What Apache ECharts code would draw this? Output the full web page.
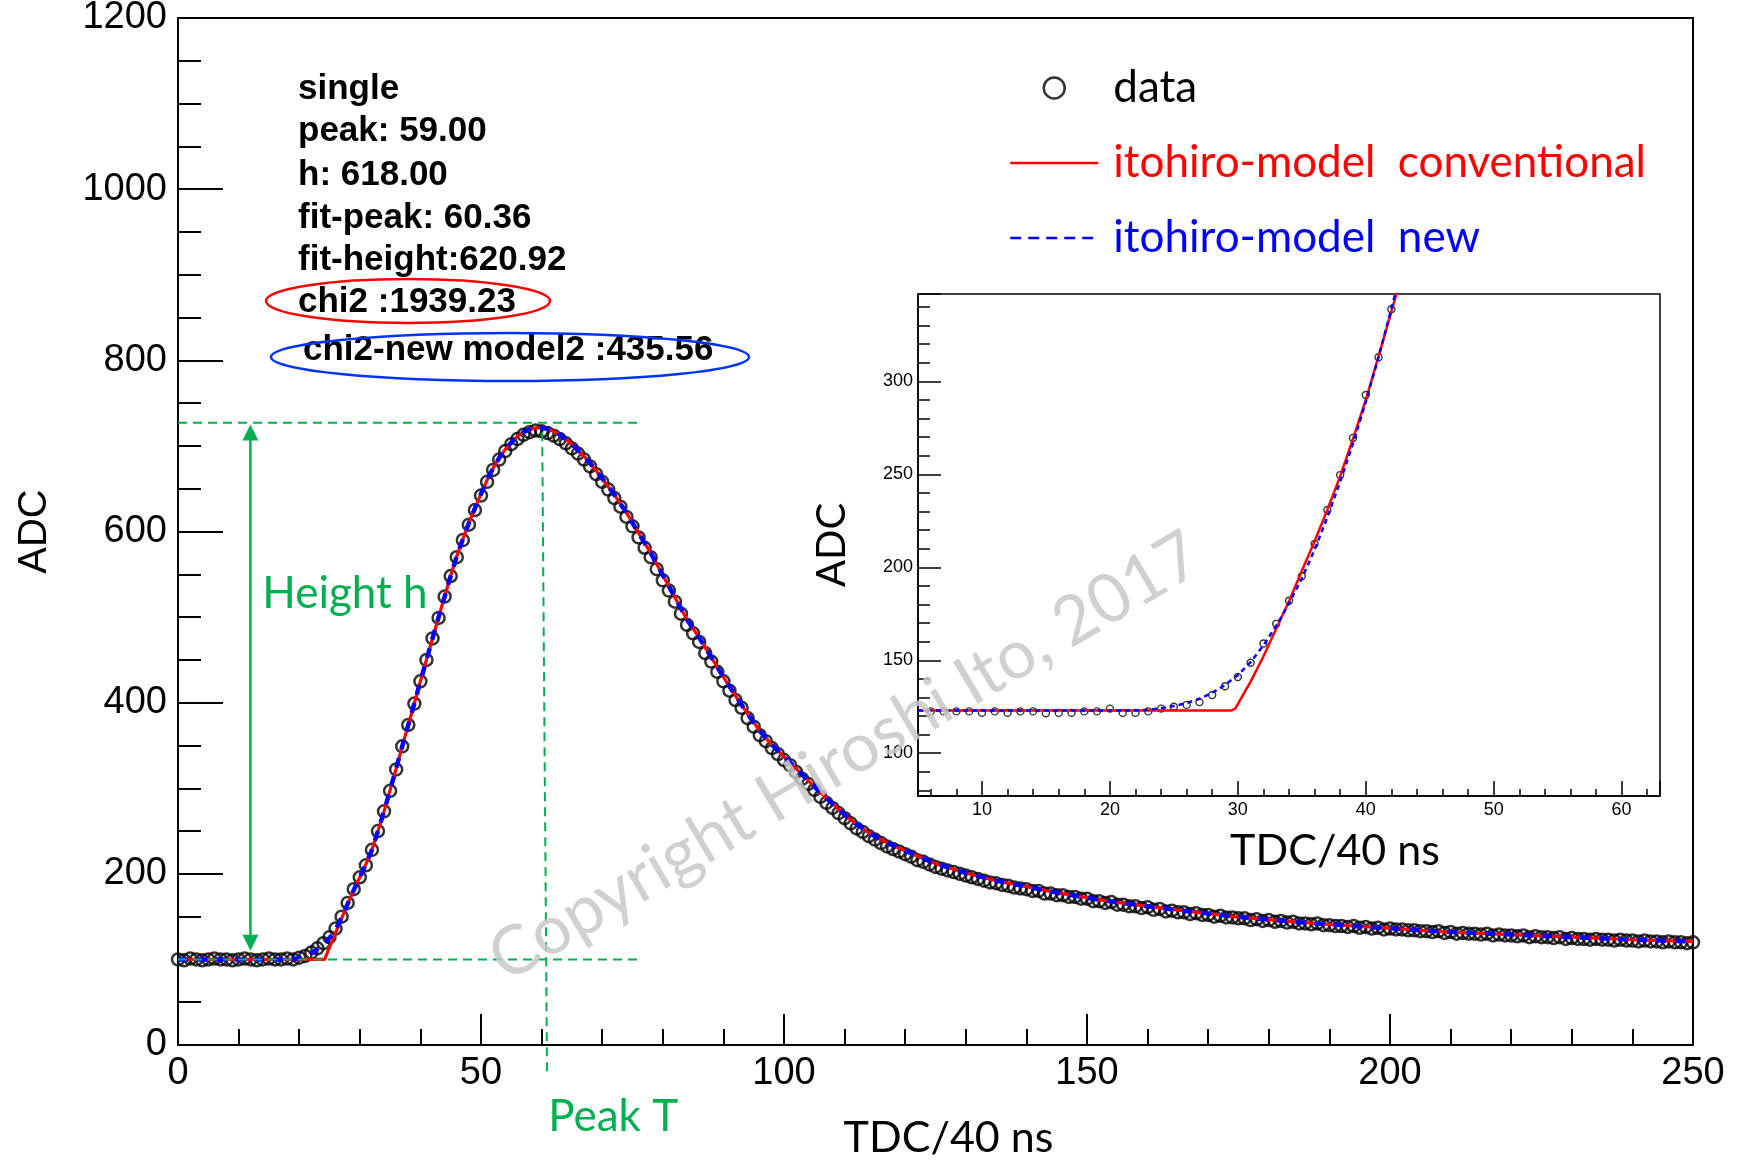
<!DOCTYPE html>
<html><head><meta charset="utf-8">
<script src="https://cdn.jsdelivr.net/npm/echarts@6/dist/echarts.min.js"></script>
<style>html,body{margin:0;padding:0;background:#fff}#chart{width:1745px;height:1161px}</style>
</head><body><div id="chart"></div>
<script>
// ---------------- data ----------------
const tdcStart = 0;   // first TDC bin of the main waveform
const dataADC = [
 100,99,101,100,99,100,101,100,100,99,100,101,100,99,100,101,100,100,101,100,
 102,104,108,113,119,126,136,150,166,182,
 196,210,228,250,273,297,322,349,374,399,
 425,450,475,499,524,548,570,590,608,625,
 642,658,672,684,694,702,708,713,716,718,
 717,715,712,708,703,697,691,684,676,667,
 658,649,639,629,617,606,593,581,570,556,
 543,531,518,504,491,481,471,458,448,436,
 425,414,403,394,382,372,362,355,347,340,
 333,327,319,311,305,298,290,283,277,271,
 265,259,253,249,244,240,236,232,229,226,
 223,220,216,214,211,208,206,204,202,200,
 198,196,194,192,190,189,187,186,184,183,
 182,180,180,177,177,175,175,173,173,171,
 171,168,168,166,167,164,164,162,162,160,
 161,158,159,156,157,155,155,153,154,152,
 152,150,151,149,149,148,148,146,147,145,
 146,144,145,143,144,142,142,141,142,140,
 140,139,139,138,139,137,138,136,137,135,
 136,135,135,134,134,133,133,132,133,131,
 132,130,131,130,130,129,130,128,129,128,
 128,127,128,126,127,126,126,125,126,124,
 125,124,124,123,124,123,123,122,123,122,
 122,121,122,121,121,120,121,120,120,119,
 120
];
const fitConventional = [
 [0,100],[24.2,100],[25,114],[26,131],[27,148],[28,165],[29,181],[30,196],[31,211],[32,228],
 [33,250],[34,273],[35,298],[36,323],[37,349],[38,374],[39,399],[40,425],[41,450],[42,475],
 [43,500],[44,524],[45,548],[46,571],[47,591],[48,610],[49,627],[50,644],[51,660],[52,674],
 [53,686],[54,696],[55,704],[56,711],[57,716],[58,719],[59,721],[60,721],[61,720],[62,717],
 [63,713],[64,708],[65,702],[66,695],[67,688],[68,680],[69,671],[70,662],[72,643],[74,622],
 [76,598],[78,575],[80,549],[82,523],[84,497],[86,476],[88,453],[90,430],[92,408],[94,387],
 [96,367],[98,351],[100,337],[102,323],[104,309],[106,295],[108,282],[110,269],[112,258],[114,248],
 [116,240],[118,233],[120,227],[125,212],[130,201],[135,192],[140,185],[145,178],[150,172],[155,166.5],
 [160,162],[165,157.5],[170,153.5],[175,149.5],[180,146.5],[185,143.5],[190,141],[195,138.5],[200,136.5],[205,134],
 [210,132],[215,130.5],[220,129],[225,127.5],[230,126],[235,124.5],[240,123],[245,122],[250,121]
];
const fitNew = [
 [0,100],[18,100],[19,100.5],[20,101.5],[21,103.5],[22,107],[23,112],[24,118],[25,125],[26,135],
 [27,149],[28,165],[29,181],[30,196],[31,211],[32,228],[33,250],[34,273],[35,298],[36,323],
 [37,349],[38,374],[39,399],[40,425],[41,450],[42,475],[43,500],[44,524],[45,548],[46,571],
 [47,591],[48,610],[49,627],[50,644],[51,660],[52,674],[53,686],[54,696],[55,704],[56,711],
 [57,716],[58,719],[59,721],[60,721],[61,720],[62,717],[63,713],[64,708],[65,702],[66,695],
 [67,688],[68,680],[69,671],[70,662],[72,643],[74,622],[76,598],[78,575],[80,549],[82,523],
 [84,497],[86,476],[88,453],[90,430],[92,408],[94,387],[96,367],[98,351],[100,337],[102,323],
 [104,309],[106,295],[108,282],[110,269],[112,258],[114,248],[116,240],[118,233],[120,227],[125,212],
 [130,201],[135,192],[140,185],[145,178],[150,172],[155,166.5],[160,162],[165,157.5],[170,153.5],[175,149.5],
 [180,146.5],[185,143.5],[190,141],[195,138.5],[200,136.5],[205,134],[210,132],[215,130.5],[220,129],[225,127.5],
 [230,126],[235,124.5],[240,123],[245,122],[250,121]
];
// inset (zoomed leading edge)
const insetTdcStart = 6;
const insetADC = [
 122.5,122.5,122.5,122.5,121.7,122.5,121.7,122.5,122.5,121.5,
 121.7,121.7,122.5,122.5,124,121.7,121.7,122.5,124,125,
 126,127.5,131.3,136,141,148.7,159,169.6,182,195.2,
 212.5,230.8,249.6,269.6,292.7,313,338.8
];
const insetFitConventional = [
 [5,123],[29.5,123],[29.8,124],[31,138.5],[32,152],[33,167],[34,181.7],[35,198],[36,214],
 [37,231],[38,249],[39,269],[40,290],[41,313.5],[42,337.5],[43,362]
];
const insetFitNew = [
 [5,123],[22,123],[23,123.4],[24,124.2],[25,125.4],[26,127],[27,129.3],[28,132.5],[29,136.7],
 [30,142],[31,149],[32,158],[33,168.5],[34,180.5],[35,194],[36,209.5],[37,227],[38,246],
 [39,266.5],[40,289],[41,313],[42,339],[43,366]
];
// hand-drawn guide annotations (data coordinates of the main plot)
const guideTop = [[0,727],[76.2,727]];
const guideBase = [[0,100],[76.6,100]];
const guidePeak = [[60.1,716],[60.9,-34]];
const heightArrow = [[11.95,725],[11.95,110]];
const heightLabelAt = [13.9,527];
const peakLabelAt = [61.1,-84];
const statLines = ['single','peak: 59.00','h: 618.00','fit-peak: 60.36','fit-height:620.92','chi2 :1939.23','chi2-new model2 :435.56'];

// ---------------- chart ----------------
const SANS = '"Liberation Sans", Arial, Helvetica, sans-serif';
const CAL = 'Lato, "Open Sans", sans-serif';
const GREEN = '#00b050';
const RED = '#ff0000';
const BLUE = '#0000ff';
const NAME_DATA = 'data';
const NAME_CONV = 'itohiro-model  conventional';
const NAME_NEW = 'itohiro-model  new';

const dataPts = dataADC.map((v, i) => [tdcStart + i, v]);
const insetPts = insetADC.map((v, i) => [insetTdcStart + i, v]);

const chart = echarts.init(document.getElementById('chart'));

function axisCommon(tickLen, minorLen, split, width) {
  return {
    axisLine: {show: true, onZero: false, lineStyle: {color: '#000', width: width}},
    axisTick: {show: true, inside: true, length: tickLen, lineStyle: {color: '#000', width: width}},
    minorTick: {show: true, splitNumber: split, length: minorLen, lineStyle: {color: '#000', width: width}},
    splitLine: {show: false}
  };
}
const plainNum = (v) => String(v);

function renderGuides(params, api) {
  const k = api.value(0);
  const dashStyle = {stroke: GREEN, lineWidth: 2, lineDash: [9, 6], fill: null};
  const seg = (s) => {
    const a = api.coord(s[0]), b = api.coord(s[1]);
    return {type: 'line', shape: {x1: a[0], y1: a[1], x2: b[0], y2: b[1]}, style: dashStyle};
  };
  if (k === 0) return seg(guideTop);
  if (k === 1) return seg(guideBase);
  if (k === 2) return seg(guidePeak);
  if (k === 3) {
    const t = api.coord(heightArrow[0]), b = api.coord(heightArrow[1]);
    const hl = 16, hw = 8;
    return {type: 'group', children: [
      {type: 'line', shape: {x1: t[0], y1: t[1] + hl - 2, x2: b[0], y2: b[1] - hl + 2}, style: {stroke: GREEN, lineWidth: 2.5}},
      {type: 'polygon', shape: {points: [[t[0], t[1]], [t[0] - hw, t[1] + hl], [t[0] + hw, t[1] + hl]]}, style: {fill: GREEN}},
      {type: 'polygon', shape: {points: [[b[0], b[1]], [b[0] - hw, b[1] - hl], [b[0] + hw, b[1] - hl]]}, style: {fill: GREEN}}
    ]};
  }
  if (k === 4 || k === 5) {
    const p = api.coord(k === 4 ? heightLabelAt : peakLabelAt);
    return {type: 'text', style: {text: k === 4 ? 'Height h' : 'Peak T', x: p[0], y: p[1],
      fill: GREEN, font: '44px ' + CAL, align: 'left', verticalAlign: 'middle'}};
  }
  return null;
}

const statY = [89, 131, 175, 218, 260, 302, 350];
const statX = [298, 298, 298, 298, 298, 298, 303];
const hiddenSymbol = {color: 'rgba(0,0,0,0)', borderWidth: 0, opacity: 0};

const option = {
  animation: false,
  backgroundColor: '#fff',
  grid: [
    {left: 178, top: 18, width: 1515, height: 1027, show: true, borderColor: '#000', borderWidth: 2, backgroundColor: 'transparent',
      containLabel: false, outerBoundsMode: 'none'},
    {left: 918, top: 294, width: 742, height: 502, show: true, borderColor: '#000', borderWidth: 1.5, backgroundColor: '#fff',
      containLabel: false, outerBoundsMode: 'none'}
  ],
  xAxis: [
    Object.assign({gridIndex: 0, type: 'value', min: 0, max: 250, interval: 50,
      axisLabel: {color: '#000', fontSize: 38, fontFamily: SANS, margin: 10, formatter: plainNum},
      name: 'TDC/40 ns', nameLocation: 'middle', nameGap: 72,
      nameTextStyle: {color: '#000', fontSize: 43, fontFamily: CAL, padding: [0, 0, 0, 26]}
    }, axisCommon(31, 16, 5, 2)),
    Object.assign({gridIndex: 1, type: 'value', min: 5, max: 63, splitNumber: 5,
      axisLabel: {color: '#000', fontSize: 18, fontFamily: SANS, margin: 5, showMinLabel: false, showMaxLabel: false, formatter: plainNum},
      name: 'TDC/40 ns', nameLocation: 'middle', nameGap: 34,
      nameTextStyle: {color: '#000', fontSize: 43, fontFamily: CAL, padding: [0, 0, 0, 92]}
    }, axisCommon(15, 7, 5, 1.5))
  ],
  yAxis: [
    Object.assign({gridIndex: 0, type: 'value', min: 0, max: 1200, interval: 200,
      axisLabel: {color: '#000', fontSize: 38, fontFamily: SANS, margin: 11, formatter: plainNum},
      name: 'ADC', nameLocation: 'middle', nameGap: 123,
      nameTextStyle: {color: '#000', fontSize: 40, fontFamily: SANS}
    }, axisCommon(45, 23, 4, 2)),
    Object.assign({gridIndex: 1, type: 'value', min: 77, max: 347, splitNumber: 5,
      axisLabel: {color: '#000', fontSize: 18, fontFamily: SANS, margin: 5, showMinLabel: false, showMaxLabel: false, formatter: plainNum},
      name: 'ADC', nameLocation: 'middle', nameGap: 66,
      nameTextStyle: {color: '#000', fontSize: 40, fontFamily: CAL}
    }, axisCommon(23, 12, 5, 1.5))
  ],
  legend: {
    left: 1004, top: 61, orient: 'vertical', itemWidth: 88, itemHeight: 21, itemGap: 31,
    selectedMode: false,
    textStyle: {fontFamily: CAL, fontSize: 44, padding: [0, 0, 0, 10]},
    data: [
      {name: NAME_DATA, icon: 'circle', itemStyle: {color: 'rgba(0,0,0,0)', borderColor: '#000', borderWidth: 2.5}, textStyle: {color: '#000'}},
      {name: NAME_CONV, textStyle: {color: RED}, itemStyle: hiddenSymbol, lineStyle: {color: RED, width: 2.5, type: 'solid'}},
      {name: NAME_NEW, textStyle: {color: BLUE}, itemStyle: hiddenSymbol, lineStyle: {color: BLUE, width: 2.5, type: [11, 7]}}
    ]
  },
  series: [
    {name: NAME_DATA, type: 'scatter', xAxisIndex: 0, yAxisIndex: 0, data: dataPts, symbol: 'circle', symbolSize: 12,
      itemStyle: {color: 'rgba(0,0,0,0)', borderColor: '#000', borderWidth: 2.5}, clip: false, silent: true, z: 2},
    {name: NAME_CONV, type: 'line', xAxisIndex: 0, yAxisIndex: 0, data: fitConventional, symbol: 'none',
      lineStyle: {color: RED, width: 3.2}, itemStyle: {color: RED}, silent: true, z: 3},
    {name: NAME_NEW, type: 'line', xAxisIndex: 0, yAxisIndex: 0, data: fitNew, symbol: 'none',
      lineStyle: {color: BLUE, width: 4.5, type: [10, 9]}, itemStyle: {color: BLUE}, silent: true, z: 4},
    {name: NAME_DATA, type: 'scatter', xAxisIndex: 1, yAxisIndex: 1, data: insetPts, symbol: 'circle', symbolSize: 7,
      itemStyle: {color: 'rgba(0,0,0,0)', borderColor: '#000', borderWidth: 1.4}, silent: true, z: 5},
    {name: NAME_CONV, type: 'line', xAxisIndex: 1, yAxisIndex: 1, data: insetFitConventional, symbol: 'none',
      lineStyle: {color: RED, width: 2.5}, itemStyle: {color: RED}, silent: true, z: 6},
    {name: NAME_NEW, type: 'line', xAxisIndex: 1, yAxisIndex: 1, data: insetFitNew, symbol: 'none',
      lineStyle: {color: BLUE, width: 2.5, type: [5, 4]}, itemStyle: {color: BLUE}, silent: true, z: 7},
    {type: 'custom', xAxisIndex: 0, yAxisIndex: 0, clip: false, silent: true, z: 8,
      data: [[0, 0], [1, 0], [2, 0], [3, 0], [4, 0], [5, 0]], renderItem: renderGuides}
  ],
  graphic: [
    ...statLines.map((t, i) => ({type: 'text', x: statX[i], y: statY[i], z: 50, silent: true,
      style: {text: t, font: 'bold 35px ' + SANS, fill: '#000', align: 'left', verticalAlign: 'middle'}})),
    {type: 'ellipse', z: 50, silent: true, shape: {cx: 408, cy: 301, rx: 142, ry: 22}, style: {fill: null, stroke: RED, lineWidth: 2.5}},
    {type: 'ellipse', z: 50, silent: true, shape: {cx: 510, cy: 357, rx: 239, ry: 24}, style: {fill: null, stroke: '#0033ff', lineWidth: 2.5}},
    {type: 'text', x: 845, y: 757, rotation: 0.535, z: 100, silent: true,
      style: {text: 'Copyright Hiroshi Ito, 2017', font: '68px ' + CAL, fill: 'rgba(200,200,200,0.85)', align: 'center', verticalAlign: 'middle'}}
  ]
};
chart.setOption(option);
</script></body></html>
